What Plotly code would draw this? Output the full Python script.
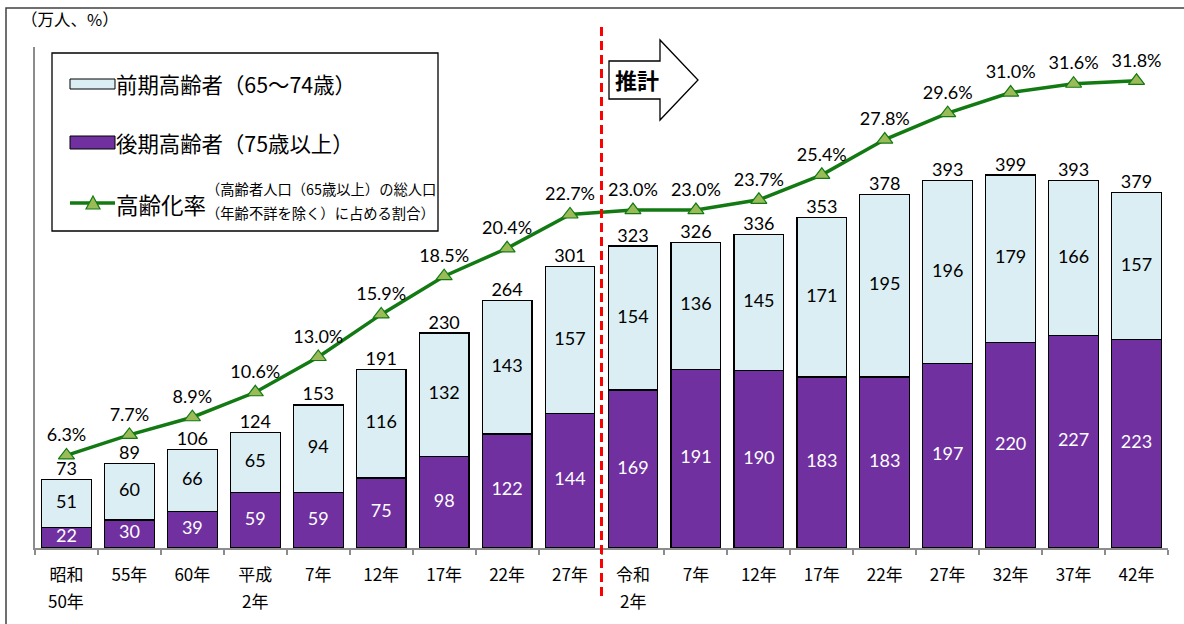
import plotly.graph_objects as go

# ---- data ----
categories = ["昭和<br>50年", "55年", "60年", "平成<br>2年", "7年", "12年", "17年", "22年", "27年",
              "令和<br>2年", "7年", "12年", "17年", "22年", "27年", "32年", "37年", "42年"]
early_elderly = [51, 60, 66, 65, 94, 116, 132, 143, 157, 154, 136, 145, 171, 195, 196, 179, 166, 157]
late_elderly = [22, 30, 39, 59, 59, 75, 98, 122, 144, 169, 191, 190, 183, 183, 197, 220, 227, 223]
totals = [73, 89, 106, 124, 153, 191, 230, 264, 301, 323, 326, 336, 353, 378, 393, 399, 393, 379]
aging_rate = [6.3, 7.7, 8.9, 10.6, 13.0, 15.9, 18.5, 20.4, 22.7, 23.0, 23.0, 23.7, 25.4, 27.8,
              29.6, 31.0, 31.6, 31.8]

x = list(range(len(categories)))
first_lines = [c.split("<br>")[0] for c in categories]
second_lines = [c.split("<br>")[1] if "<br>" in c else "" for c in categories]

W, H = 1184, 624
L, R, T, B = 35, 16, 47, 76
PW, PH = W - L - R, H - T - B


def px(xp):
    return (xp - L) / PW


def py(yp):
    return (H - B - yp) / PH


NUM_FONT = "Lato, 'Noto Sans', sans-serif"
JP_FONT = "'Noto Sans CJK JP', sans-serif"
LIGHT = "#DAEEF3"
PURPLE = "#7030A0"
GREEN = "#137A13"
MARK = "#9BBB59"
NUM_SIZE = 18

fig = go.Figure()

fig.add_trace(go.Bar(x=x, y=late_elderly, marker=dict(color=PURPLE, line=dict(color="black", width=1.2)),
                     width=0.79, showlegend=False, hoverinfo="skip"))
fig.add_trace(go.Bar(x=x, y=early_elderly, marker=dict(color=LIGHT, line=dict(color="black", width=1.2)),
                     width=0.79, showlegend=False, hoverinfo="skip"))

# segment labels
fig.add_trace(go.Scatter(x=x, y=[v / 2 for v in late_elderly], mode="text",
                         text=[str(v) for v in late_elderly], textposition="middle center",
                         textfont=dict(family=NUM_FONT, size=NUM_SIZE, color="white"),
                         showlegend=False, hoverinfo="skip"))
fig.add_trace(go.Scatter(x=x, y=[a + b / 2 for a, b in zip(late_elderly, early_elderly)], mode="text",
                         text=[str(v) for v in early_elderly], textposition="middle center",
                         textfont=dict(family=NUM_FONT, size=NUM_SIZE, color="black"),
                         showlegend=False, hoverinfo="skip"))
# totals
fig.add_trace(go.Scatter(x=x, y=[a + b for a, b in zip(late_elderly, early_elderly)], mode="text",
                         text=[str(v) for v in totals], textposition="top center",
                         textfont=dict(family=NUM_FONT, size=NUM_SIZE, color="black"),
                         showlegend=False, hoverinfo="skip"))
# aging rate line
fig.add_trace(go.Scatter(x=x, y=aging_rate, yaxis="y2", mode="lines+markers+text",
                         line=dict(color=GREEN, width=3.5),
                         marker=dict(symbol="triangle-up", size=14, color=MARK,
                                     line=dict(color=GREEN, width=1.2)),
                         text=[f"{v:.1f}%" for v in aging_rate], textposition="top center",
                         textfont=dict(family=NUM_FONT, size=NUM_SIZE, color="black"),
                         showlegend=False, hoverinfo="skip", cliponaxis=False))

shapes = []
annotations = []

# second lines of era tick labels
for xi, s in zip(x, second_lines):
    if s:
        annotations.append(dict(xref="x", yref="paper", x=xi, y=py(600), xanchor="center", yanchor="middle",
                                text=s, showarrow=False, font=dict(family=JP_FONT, size=17, color="black")))

# outer frame (top and left)
shapes.append(dict(type="rect", xref="paper", yref="paper", x0=px(6), x1=px(W + 10), y0=py(8), y1=py(H + 10),
                   line=dict(color="#404040", width=1.5), fillcolor="rgba(0,0,0,0)", layer="below"))

# red dashed separator
shapes.append(dict(type="line", xref="x", yref="paper", x0=8.5, x1=8.5, y0=py(27), y1=py(598),
                   line=dict(color="#FF0000", width=3, dash="9px,5px")))

# forecast arrow
pts = [(609, 61), (660, 61), (660, 40), (698, 80), (660, 120), (660, 99), (609, 99)]
path = "M " + " L ".join(f"{px(a):.5f},{py(b):.5f}" for a, b in pts) + " Z"
shapes.append(dict(type="path", xref="paper", yref="paper", path=path,
                   line=dict(color="black", width=1.3), fillcolor="white"))
annotations.append(dict(xref="paper", yref="paper", x=px(637), y=py(79), xanchor="center", yanchor="middle",
                        text="<b>推計</b>", showarrow=False,
                        font=dict(family=JP_FONT, size=22, color="black")))

# legend box
shapes.append(dict(type="rect", xref="paper", yref="paper", x0=px(52), x1=px(438), y0=py(53), y1=py(231),
                   line=dict(color="black", width=1.3), fillcolor="white"))
shapes.append(dict(type="rect", xref="paper", yref="paper", x0=px(70), x1=px(115), y0=py(79), y1=py(89),
                   line=dict(color="black", width=1), fillcolor=LIGHT))
shapes.append(dict(type="rect", xref="paper", yref="paper", x0=px(70), x1=px(115), y0=py(136), y1=py(149),
                   line=dict(color="black", width=1), fillcolor=PURPLE))
shapes.append(dict(type="line", xref="paper", yref="paper", x0=px(70), x1=px(115), y0=py(203), y1=py(203),
                   line=dict(color=GREEN, width=3.5)))
tri = [(86, 209), (100, 209), (93, 196)]
shapes.append(dict(type="path", xref="paper", yref="paper",
                   path="M " + " L ".join(f"{px(a):.5f},{py(b):.5f}" for a, b in tri) + " Z",
                   line=dict(color=GREEN, width=1.2), fillcolor=MARK))


def legend_text(xp, yp, text, size):
    annotations.append(dict(xref="paper", yref="paper", x=px(xp), y=py(yp), xanchor="left", yanchor="middle",
                            text=text, showarrow=False, font=dict(family=JP_FONT, size=size, color="black")))


legend_text(114, 84, "前期高齢者（65～74歳）", 21.4)
legend_text(114, 142, "後期高齢者（75歳以上）", 21.4)
legend_text(114, 204, "高齢化率", 22.5)
legend_text(204, 188, "（高齢者人口（65歳以上）の総人口", 14.3)
legend_text(204, 212, "（年齢不詳を除く）に占める割合）", 14.3)

# unit label
annotations.append(dict(xref="paper", yref="paper", x=px(19), y=py(19), xanchor="left", yanchor="middle",
                        text="（万人、%）", showarrow=False, font=dict(family=JP_FONT, size=16.5, color="black")))

fig.update_layout(
    width=W, height=H,
    margin=dict(l=L, r=R, t=T, b=B),
    paper_bgcolor="white", plot_bgcolor="white",
    barmode="stack", bargap=0.21,
    shapes=shapes, annotations=annotations,
    xaxis=dict(range=[-0.5, 17.5], tickmode="array", tickvals=x, ticktext=first_lines,
               showline=True, linecolor="#8C8C8C", linewidth=1.5, ticks="", showgrid=False,
               zeroline=False, tickfont=dict(family=JP_FONT, size=17, color="black"),
               ticklabelstandoff=11,
               minor=dict(tick0=-0.5, dtick=1, ticks="outside", ticklen=5, tickcolor="#8C8C8C",
                          tickwidth=1.5, showgrid=False)),
    yaxis=dict(range=[0, 536], showline=True, linecolor="#8C8C8C", linewidth=1.5, showticklabels=False,
               ticks="", showgrid=False, zeroline=False),
    yaxis2=dict(range=[0, 34.1], overlaying="y", side="right", showline=False, showticklabels=False,
                ticks="", showgrid=False, zeroline=False),
)

fig.write_html("out.html", config={"displayModeBar": False},
               post_script="document.body.style.margin='0';document.body.style.padding='0';")
